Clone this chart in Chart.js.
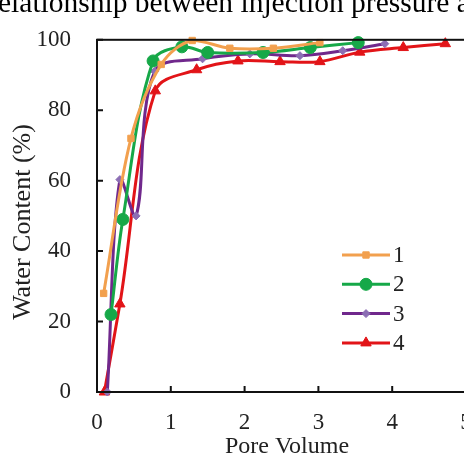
<!DOCTYPE html>
<html>
<head>
<meta charset="utf-8">
<script src="https://cdn.jsdelivr.net/npm/chart.js@4/dist/chart.umd.min.js"></script>
<style>
  html, body { margin: 0; padding: 0; background: #fff; overflow: hidden; }
  #wrap { position: absolute; left: 0; top: 0; width: 500px; height: 460px; }
</style>
</head>
<body>
<div id="wrap"><canvas id="c" width="500" height="460"></canvas></div>
<script>
// Water content vs pore volume, four runs
const pv1 = [0.09, 0.46, 0.87, 1.29, 1.8, 2.39, 3.02]
const wc1 = [28, 72, 93, 99.8, 97.6, 97.6, 99.2]

const pv2 = [0.19, 0.35, 0.76, 1.15, 1.5, 2.25, 2.89, 3.54]
const wc2 = [22, 49, 94, 98, 96.4, 96.4, 97.8, 99.2]

const pv3 = [0.14, 0.31, 0.53, 0.78, 1.43, 2.07, 2.75, 3.33, 3.9]
const wc3 = [0, 60.3, 50, 91, 94.6, 96, 95.5, 96.9, 98.9]

const pv4 = [0.1, 0.31, 0.79, 1.35, 1.91, 2.48, 3.02, 3.56, 4.15, 4.72]
const wc4 = [0, 25, 85.5, 91.5, 94, 93.8, 93.8, 96.5, 97.8, 98.9]

const seriesNames = ["1", "2", "3", "4"]
const xTicks = [0, 1, 2, 3, 4, 5]
const yTicks = [0, 20, 40, 60, 80, 100]

const titleText = "Relationship between injection pressure and water content"
const xTitle = "Pore Volume"
const yTitle = "Water Content (%)"

const serif = "'Liberation Serif', 'DejaVu Serif', serif"

function pts(xs, ys) {
  return xs.map((x, i) => ({ x: x, y: ys[i] }))
}

const styles = [
  { color: "rgb(242,160,78)", pointColor: "rgb(242,160,78)", style: "rect", radius: 4.5 },
  { color: "rgb(22,168,72)", pointColor: "rgb(22,168,72)", style: "circle", radius: 6 },
  { color: "rgb(112,40,140)", pointColor: "rgb(140,110,180)", style: "rectRot", radius: 4 },
  { color: "rgb(226,20,24)", pointColor: "rgb(226,20,24)", style: "triangle", radius: 6 },
]

const allData = [pts(pv1, wc1), pts(pv2, wc2), pts(pv3, wc3), pts(pv4, wc4)]

const datasets = allData.map((d, i) => ({
  label: seriesNames[i],
  data: d,
  borderColor: styles[i].color,
  backgroundColor: styles[i].pointColor,
  pointBackgroundColor: styles[i].pointColor,
  pointBorderColor: styles[i].pointColor,
  pointStyle: styles[i].style,
  pointRadius: styles[i].radius,
  pointBorderWidth: 1,
  borderWidth: 3,
  tension: 0.35,
  clip: false,
}))

// frame, inward ticks, axis titles, legend and the clipped title
const decor = {
  id: "decor",
  afterDraw(chart) {
    const ctx = chart.ctx
    const a = chart.chartArea
    const xs = chart.scales.x
    const ys = chart.scales.y
    ctx.save()
    ctx.strokeStyle = "#111"
    ctx.lineWidth = 2
    ctx.strokeRect(a.left, a.top, a.right - a.left, a.bottom - a.top)
    ctx.beginPath()
    xTicks.forEach(v => {
      const px = xs.getPixelForValue(v)
      ctx.moveTo(px, a.bottom)
      ctx.lineTo(px, a.bottom - 6)
    })
    yTicks.forEach(v => {
      const py = ys.getPixelForValue(v)
      ctx.moveTo(a.left, py)
      ctx.lineTo(a.left + 6, py)
    })
    ctx.stroke()

    ctx.fillStyle = "#222"
    ctx.font = "24px " + serif
    ctx.textAlign = "center"
    ctx.textBaseline = "middle"
    ctx.fillText(xTitle, 287, 447)
    ctx.save()
    ctx.font = "26px " + serif
    ctx.translate(23, 222)
    ctx.rotate(-Math.PI / 2)
    ctx.fillText(yTitle, 0, 0)
    ctx.restore()

    // title, cut by the top and left of the picture
    ctx.font = "29.5px " + serif
    ctx.textAlign = "left"
    ctx.textBaseline = "alphabetic"
    ctx.fillStyle = "#000"
    const rw = ctx.measureText("R").width
    ctx.fillText(titleText, -rw - 2, 12)

    // legend
    chart.data.datasets.forEach((ds, i) => {
      const y = 255 + i * 29.3
      ctx.strokeStyle = ds.borderColor
      ctx.lineWidth = 3
      ctx.beginPath()
      ctx.moveTo(342, y)
      ctx.lineTo(390, y)
      ctx.stroke()
      ctx.fillStyle = ds.pointBackgroundColor
      ctx.strokeStyle = ds.pointBorderColor
      ctx.lineWidth = 1
      Chart.helpers.drawPoint(ctx, { pointStyle: ds.pointStyle, radius: ds.pointRadius, rotation: 0, borderWidth: 1 }, 366, y)
      ctx.fillStyle = "#222"
      ctx.font = "23px " + serif
      ctx.textBaseline = "middle"
      ctx.fillText(ds.label, 393, y + 1)
    })
    ctx.restore()
  },
}

new Chart(document.getElementById("c"), {
  type: "line",
  data: { datasets: datasets },
  options: {
    responsive: false,
    animation: false,
    events: [],
    layout: { padding: { left: 0, right: 34, top: 19, bottom: 0 } },
    plugins: {
      legend: { display: false },
      tooltip: { enabled: false },
    },
    scales: {
      x: {
        type: "linear",
        min: 0,
        max: 5,
        afterFit(scale) { scale.height = 68 },
        afterBuildTicks(scale) { scale.ticks = xTicks.map(v => ({ value: v })) },
        grid: { display: false, drawTicks: false },
        border: { display: false },
        ticks: { padding: 17, color: "#222", font: { family: serif, size: 23 } },
      },
      y: {
        min: 0,
        max: 100,
        afterFit(scale) { scale.width = 97 },
        afterBuildTicks(scale) { scale.ticks = yTicks.map(v => ({ value: v })) },
        grid: { display: false, drawTicks: false },
        border: { display: false },
        ticks: { padding: 26, color: "#222", font: { family: serif, size: 23 } },
      },
    },
  },
  plugins: [decor],
})
</script>
</body>
</html>
